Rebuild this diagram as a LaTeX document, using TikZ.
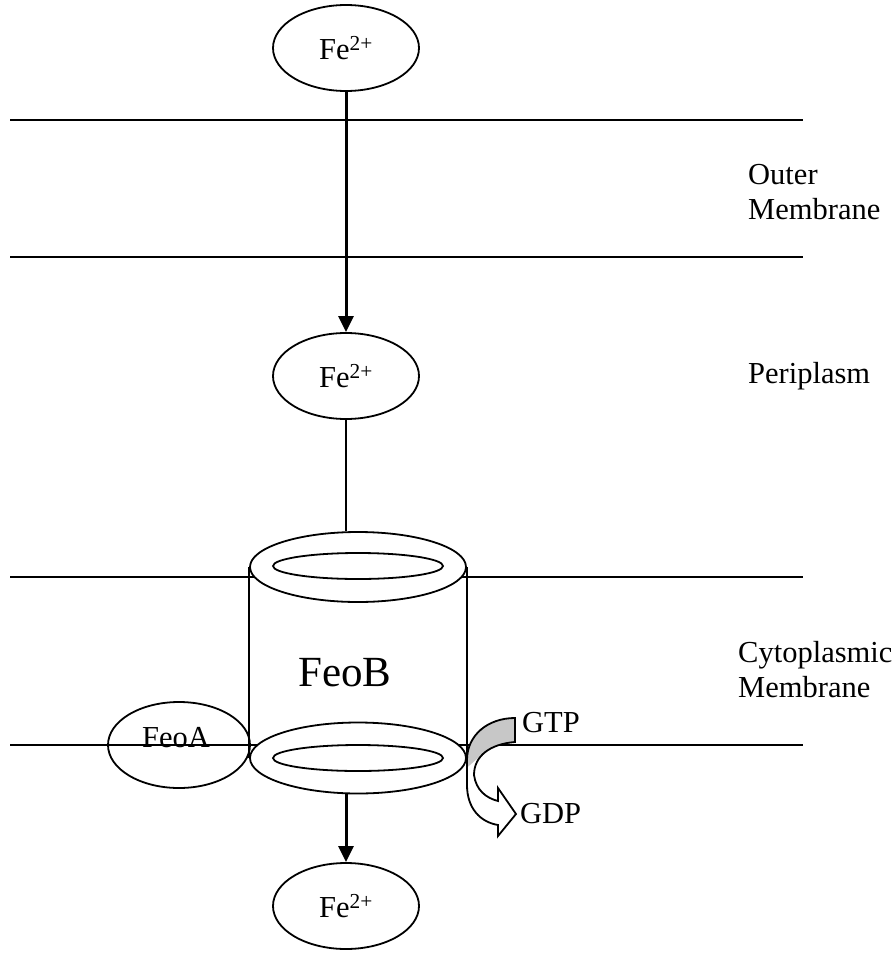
\documentclass[tikz,border=0pt]{standalone}
\usepackage{fontspec}
\setmainfont{Liberation Serif}
\usetikzlibrary{arrows.meta}
\usetikzlibrary{shapes.geometric}

\tikzset{
  oval/.style={ellipse, draw, line width=1.8pt, inner sep=0pt, minimum width=146pt, minimum height=86pt},
  ring/.style={ellipse, draw, fill=white, line width=1.8pt, inner sep=0pt, minimum width=216pt, minimum height=70pt},
  hole/.style={ellipse, draw, line width=1.8pt, inner sep=0pt, minimum width=170pt, minimum height=26pt},
  membrane/.style={line width=1.8pt},
  flow/.style={line width=3pt, -{Triangle[length=16pt,width=15pt]}},
  tag/.style={inner sep=0pt, anchor=west, align=left}
}

\begin{document}
\begin{tikzpicture}[x=1pt, y=-1pt, every node/.style={font=\fontsize{30.5}{35}\selectfont}]
      \useasboundingbox (0,0) rectangle (895,953);

      % membranes
      \draw[membrane] (10,120) -- (803,120);
      \draw[membrane] (10,257) -- (803,257);
      \draw[membrane] (10,577) -- (803,577);
      \draw[membrane] (10,745) -- (803,745);

      \node[oval] (fetop) at (346,48) {Fe\textsuperscript{2+}};
      \node[oval] (femid) at (346,376) {Fe\textsuperscript{2+}};
      \node[oval] (febot) at (346,906) {Fe\textsuperscript{2+}};
      \node[oval, minimum width=142pt] (feoa) at (179,745) {};
      \node[inner sep=0pt, anchor=base] (feoatext) at (176,747) {FeoA};

      % FeoB channel
      \node[ring] (ringtop) at (358,567) {};
      \node[hole] (holetop) at (358,566) {};
      \draw[membrane] (ringtop.west) -- (ringtop.west |- 0,758);
      \draw[membrane] (ringtop.east) -- (ringtop.east |- 0,758);
      \node[ring, minimum height=71pt] (ringbot) at (358,758) {};
      \node[hole] (holebot) at (358,758) {};
      \node[font=\fontsize{43}{50}\selectfont] (feob) at (345,673) {FeoB};

      \draw[flow] (fetop) -- (femid);
      \draw[line width=2pt] (femid.south) -- (femid.south |- ringtop.north);
      \draw[flow] (ringbot.south -| febot.north) -- (febot.north);

      % GTP -> GDP
      \def\gtpband{(515,718) -- (515,742) .. controls (490,744) and (474,756) .. (474,775) .. controls (476,790) and (486,798) .. (498,801) -- (498,788) -- (516,814) -- (498,836) -- (498,825) .. controls (480,822) and (467,808) .. (467,785) -- (467,760) .. controls (467,735) and (488,718) .. (515,718) -- cycle}
      \fill[white] \gtpband;
      \begin{scope}
        \clip \gtpband;
        \fill[black!22] (455,700) -- (530,700) -- (530,742) -- (478,758) -- (455,778) -- cycle;
      \end{scope}
      \draw[line width=1.8pt, line join=miter] \gtpband;

      \node[tag, anchor=base west] (gtp) at (522,732) {GTP};
      \node[tag, anchor=base west] (gdp) at (520,823) {GDP};
      \node[tag] (outer) at (748,192) {Outer\\Membrane};
      \node[tag] (peri) at (748,376) {Periplasm};
      \node[tag] (cyto) at (738,670) {Cytoplasmic\\Membrane};
\end{tikzpicture}
\end{document}
